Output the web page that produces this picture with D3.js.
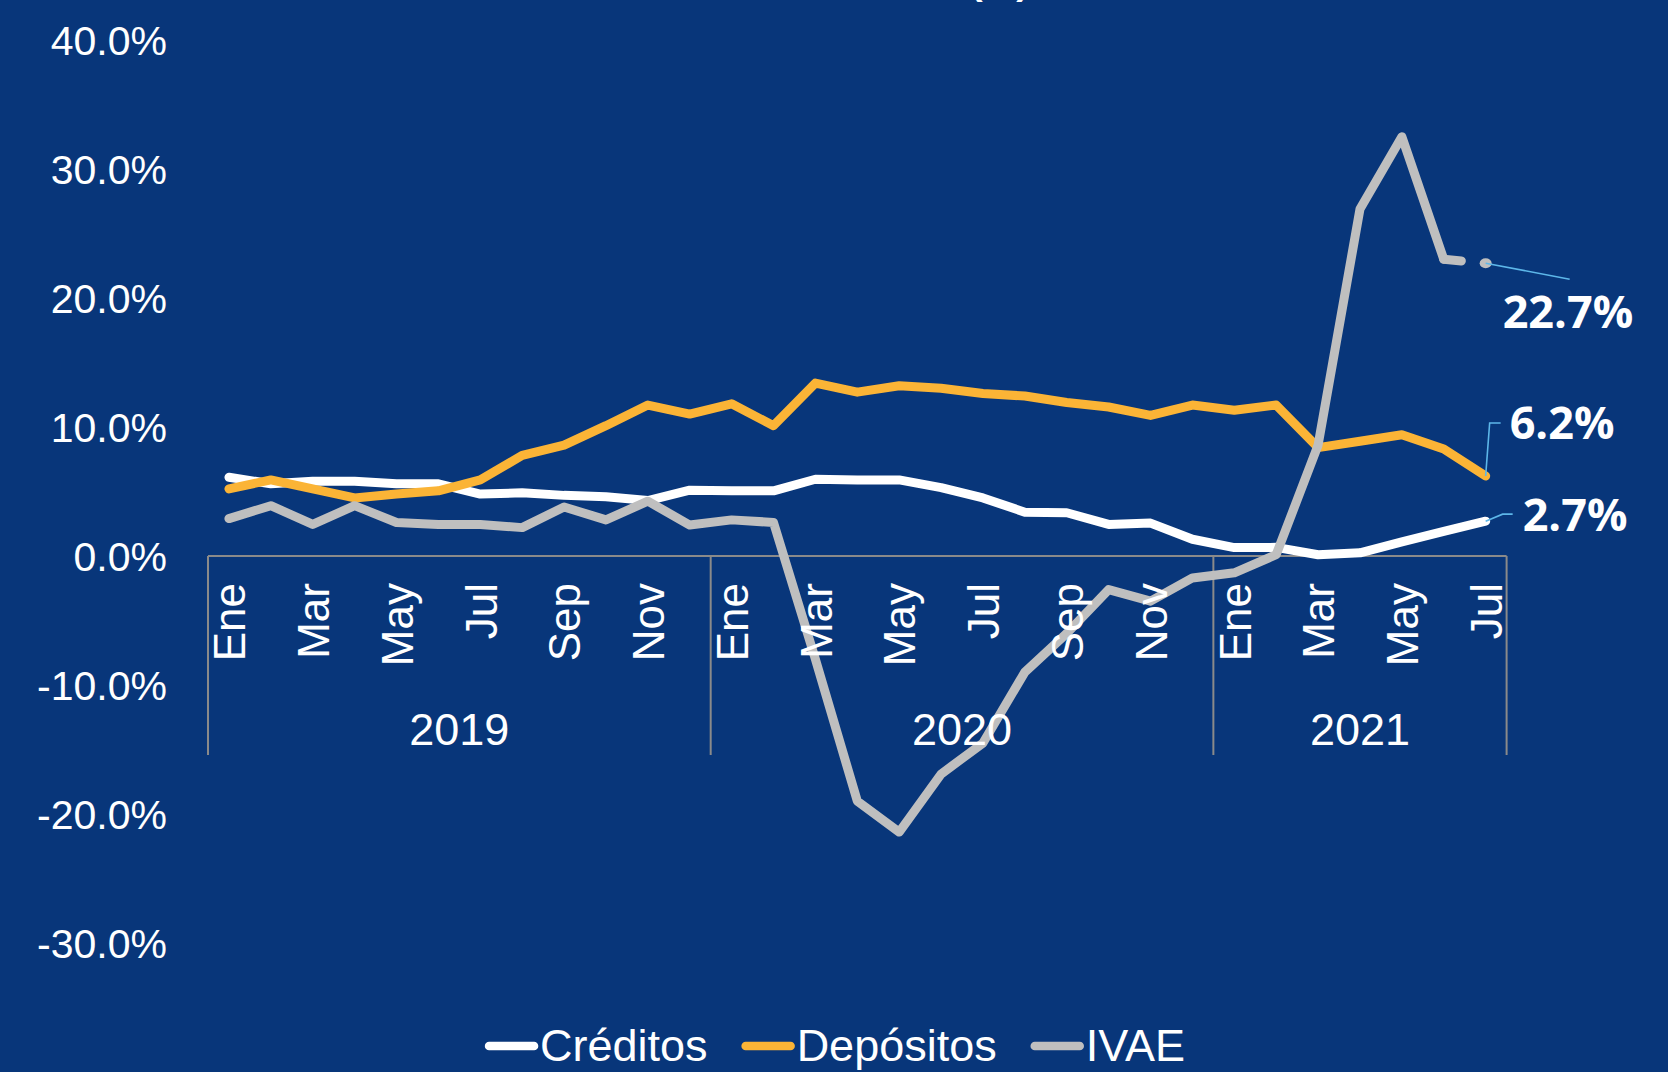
<!DOCTYPE html>
<html lang="es">
<head>
<meta charset="utf-8">
<title>Créditos, Depósitos e IVAE</title>
<script src="https://cdn.jsdelivr.net/npm/d3@7/dist/d3.min.js"></script>
<style>
body{margin:0;background:#08367a;overflow:hidden;}
svg{display:block;font-family:"Liberation Sans",Arial,sans-serif;}
</style>
</head>
<body>
<svg id="chart" width="1668" height="1072"></svg>
<script>
// categorias: meses por año (el eje muestra un mes si, otro no)
var years = ["2019", "2020", "2021"];
var monthsPerYear = [12, 12, 7];
var monthNames = ["Ene","Feb","Mar","Abr","May","Jun","Jul","Ago","Sep","Oct","Nov","Dic"];

// variacion anual (%), Ene 2019 - Jul 2021
var creditos = [6.1, 5.6, 5.8, 5.8, 5.6, 5.6, 4.8, 4.9, 4.7, 4.6, 4.3, 5.1,
                5.05, 5.05, 5.95, 5.9, 5.9, 5.3, 4.5, 3.4, 3.35, 2.45, 2.55, 1.3,
                0.65, 0.67, 0.1, 0.25, 1.1, 1.9, 2.7];
var depositos = [5.2, 5.9, 5.2, 4.5, 4.8, 5.05, 5.9, 7.8, 8.6, 10.1, 11.7, 11.0,
                 11.8, 10.1, 13.4, 12.7, 13.2, 13.0, 12.6, 12.4, 11.9, 11.55, 10.9, 11.7,
                 11.3, 11.7, 8.4, 8.9, 9.4, 8.3, 6.2];
var ivae = [2.9, 3.9, 2.45, 3.9, 2.6, 2.45, 2.45, 2.2, 3.8, 2.8, 4.25, 2.4,
            2.8, 2.6, -8.0, -19.0, -21.4, -16.9, -14.5, -9.0, -6.0, -2.6, -3.5, -1.7,
            -1.3, 0.1, 8.6, 26.9, 32.5, 23.0, 22.7];

var yTicks = [-30, -20, -10, 0, 10, 20, 30, 40];
var seriesNames = ["Créditos", "Depósitos", "IVAE"];
var seriesColors = ["#ffffff", "#fbb436", "#bfbfbf"];

var svg = d3.select("#chart");
var bg = "#08367a";
svg.append("rect").attr("width", 1668).attr("height", 1072).attr("fill", bg);

// lista plana de categorias
var cats = [];
years.forEach(function(yr, j){
  for (var m = 0; m < monthsPerYear[j]; m++) cats.push({year: yr, month: monthNames[m], m: m});
});

var x = d3.scaleBand().domain(d3.range(cats.length)).range([208, 1506.6]).padding(0);
var xc = function(i){ return x(i) + x.bandwidth() / 2; };
var y = d3.scaleLinear().domain([-30, 40]).range([943, 40]);

// titulo (cortado arriba, como en el original)
svg.append("text")
  .attr("x", 1029).attr("y", -6)
  .attr("text-anchor", "end")
  .attr("fill", "#fff")
  .style("font-size", "38px")
  .style("font-weight", "bold")
  .text("(%)");

// eje y
var yAxis = svg.append("g")
  .attr("transform", "translate(167,0)")
  .call(d3.axisLeft(y).tickValues(yTicks).tickSize(0).tickPadding(0)
        .tickFormat(function(d){ return d.toFixed(1) + "%"; }));
yAxis.select(".domain").remove();
yAxis.selectAll("text")
  .attr("fill", "#fff")
  .attr("dy", "0.36em")
  .style("font-size", "41px")
  .style("font-family", "'Liberation Sans', Arial, sans-serif");

// eje x: linea en cero y separadores de año
var axisColor = "#8a8a8a";
svg.append("line")
  .attr("x1", x(0)).attr("x2", x(cats.length - 1) + x.bandwidth())
  .attr("y1", y(0)).attr("y2", y(0))
  .attr("stroke", axisColor).attr("stroke-width", 2);

var start = 0, bounds = [0];
monthsPerYear.forEach(function(n){ start += n; bounds.push(start); });
svg.selectAll(".sep").data(bounds).enter().append("line")
  .attr("class", "sep")
  .attr("x1", function(b){ return b < cats.length ? x(b) : x(b - 1) + x.bandwidth(); })
  .attr("x2", function(b){ return b < cats.length ? x(b) : x(b - 1) + x.bandwidth(); })
  .attr("y1", y(0)).attr("y2", 755)
  .attr("stroke", axisColor).attr("stroke-width", 2);

// series
var line = d3.line()
  .x(function(d){ return xc(d.i); })
  .y(function(d){ return y(d.v); });

function pts(arr){ return arr.map(function(v, i){ return {i: i, v: v}; }); }

var lw = 9;
[creditos, depositos].forEach(function(arr, k){
  svg.append("path")
    .datum(pts(arr))
    .attr("d", line)
    .attr("fill", "none")
    .attr("stroke", seriesColors[k])
    .attr("stroke-width", lw)
    .attr("stroke-linejoin", "round")
    .attr("stroke-linecap", "round");
});

// IVAE: el ultimo tramo queda cortado y el ultimo punto va como marcador
var ivPts = pts(ivae);
var last = ivPts.length - 1;
svg.append("path")
  .datum(ivPts.slice(0, last))
  .attr("d", line)
  .attr("fill", "none")
  .attr("stroke", seriesColors[2])
  .attr("stroke-width", lw)
  .attr("stroke-linejoin", "round")
  .attr("stroke-linecap", "round");
var a = ivPts[last - 1], b = ivPts[last], f = 0.42;
svg.append("line")
  .attr("x1", xc(a.i)).attr("y1", y(a.v))
  .attr("x2", xc(a.i) + (xc(b.i) - xc(a.i)) * f)
  .attr("y2", y(a.v) + (y(b.v) - y(a.v)) * f)
  .attr("stroke", seriesColors[2]).attr("stroke-width", lw).attr("stroke-linecap", "round");
svg.append("ellipse")
  .attr("cx", xc(b.i)).attr("cy", y(b.v))
  .attr("rx", 6).attr("ry", 5)
  .attr("fill", seriesColors[2]);

// etiquetas de mes (una si, otra no) y de año
svg.selectAll(".mes").data(cats.filter(function(c){ return c.m % 2 === 0; })).enter()
  .append("text")
  .attr("class", "mes")
  .attr("transform", function(c){ return "translate(" + xc(cats.indexOf(c)) + ",583) rotate(-90)"; })
  .attr("dy", "0.37em")
  .attr("text-anchor", "end")
  .attr("fill", "#fff")
  .style("font-size", "44px")
  .text(function(c){ return c.month; });

svg.selectAll(".anio").data(years).enter()
  .append("text")
  .attr("class", "anio")
  .attr("x", function(yr, j){ return (x(bounds[j]) + x(bounds[j + 1] - 1) + x.bandwidth()) / 2; })
  .attr("y", 745)
  .attr("text-anchor", "middle")
  .attr("fill", "#fff")
  .style("font-size", "45px")
  .text(function(yr){ return yr; });

// etiquetas del ultimo dato con lineas guia
var leader = "#5db7e9";
var finals = [
  {v: ivae[last], pts: [[0, 0], [84, 16]], lx: 17, ly: 65},
  {v: depositos[last], pts: [[0, 0], [4, -53], [15, -53]], lx: 24, ly: -37},
  {v: creditos[last], pts: [[0, 0], [17, -7], [27, -7]], lx: 37, ly: 10}
];
finals.forEach(function(d){
  var px = xc(last), py = y(d.v);
  svg.append("polyline")
    .attr("points", d.pts.map(function(p){ return (px + p[0]) + "," + (py + p[1]); }).join(" "))
    .attr("fill", "none").attr("stroke", leader).attr("stroke-width", 1.6);
  svg.append("text")
    .attr("x", px + d.lx).attr("y", py + d.ly)
    .attr("fill", "#fff")
    .style("font-family", "'Open Sans', sans-serif")
    .style("font-weight", "bold")
    .style("font-size", "45px")
    .text(d.v.toFixed(1) + "%");
});

// leyenda
var leg = svg.append("g");
var cursor = 0;
seriesNames.forEach(function(name, k){
  var g = leg.append("g").attr("transform", "translate(" + cursor + ",0)");
  g.append("line")
    .attr("x1", 4).attr("x2", 49).attr("y1", 0).attr("y2", 0)
    .attr("stroke", seriesColors[k]).attr("stroke-width", 8.5).attr("stroke-linecap", "round");
  var t = g.append("text")
    .attr("x", 55).attr("y", 15)
    .attr("fill", "#fff")
    .style("font-size", "45px")
    .text(name);
  cursor += 55 + t.node().getComputedTextLength() + 34;
});
var legW = cursor - 34;
leg.attr("transform", "translate(" + (835 - legW / 2) + ",1046)");
</script>
</body>
</html>
